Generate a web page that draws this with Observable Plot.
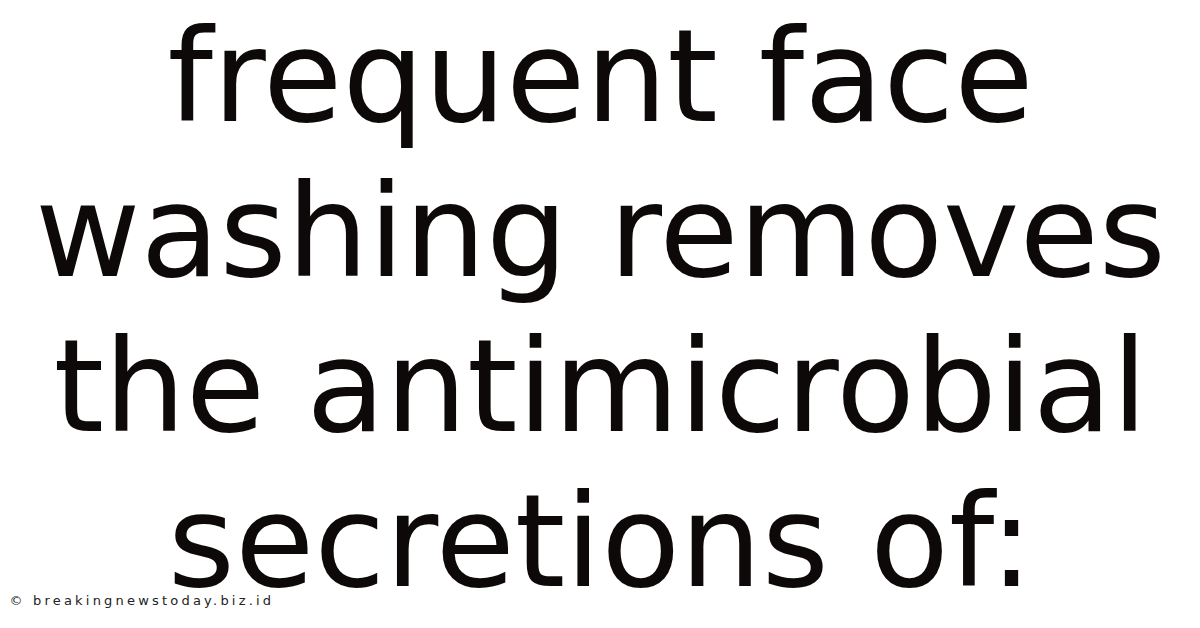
<!DOCTYPE html>
<html>
<head>
<meta charset="utf-8">
<script src="https://cdn.jsdelivr.net/npm/d3@7"></script>
<script src="https://cdn.jsdelivr.net/npm/@observablehq/plot@0.6"></script>
<style>
  html, body { margin: 0; padding: 0; background: #ffffff; }
  #chart svg { display: block; }
</style>
</head>
<body>
<div id="chart"></div>
<script>
const lines = ["frequent face", "washing removes", "the antimicrobial", "secretions of:"];
const lineIndex = [0, 1, 2, 3];
const watermark = ["© breakingnewstoday.biz.id"];

const chart = Plot.plot({
  width: 1200,
  height: 628,
  margin: 0,
  style: { background: "#ffffff", fontFamily: "DejaVu Sans" },
  x: { axis: null, domain: [0, 1], range: [0, 1200] },
  y: { axis: null, type: "point", padding: 0, domain: lineIndex, range: [120, 585] },
  marks: [
    Plot.text(lines, {
      x: () => 0.5,
      y: (d, i) => lineIndex[i],
      text: d => d,
      fontSize: 129,
      fontFamily: "DejaVu Sans",
      fill: "#0e0909",
      lineAnchor: "bottom",
      textAnchor: "middle"
    }),
    Plot.text(watermark, {
      frameAnchor: "bottom-left",
      text: d => d,
      dx: 9,
      dy: -24,
      fontSize: 13,
      fontFamily: "DejaVu Sans",
      fill: "#222222",
      lineAnchor: "bottom",
      textAnchor: "start"
    })
  ]
});
d3.select(chart).selectAll("text")
  .filter(function () { return this.textContent.startsWith("©"); })
  .attr("letter-spacing", "3.2px");
document.getElementById("chart").appendChild(chart);
</script>
</body>
</html>
